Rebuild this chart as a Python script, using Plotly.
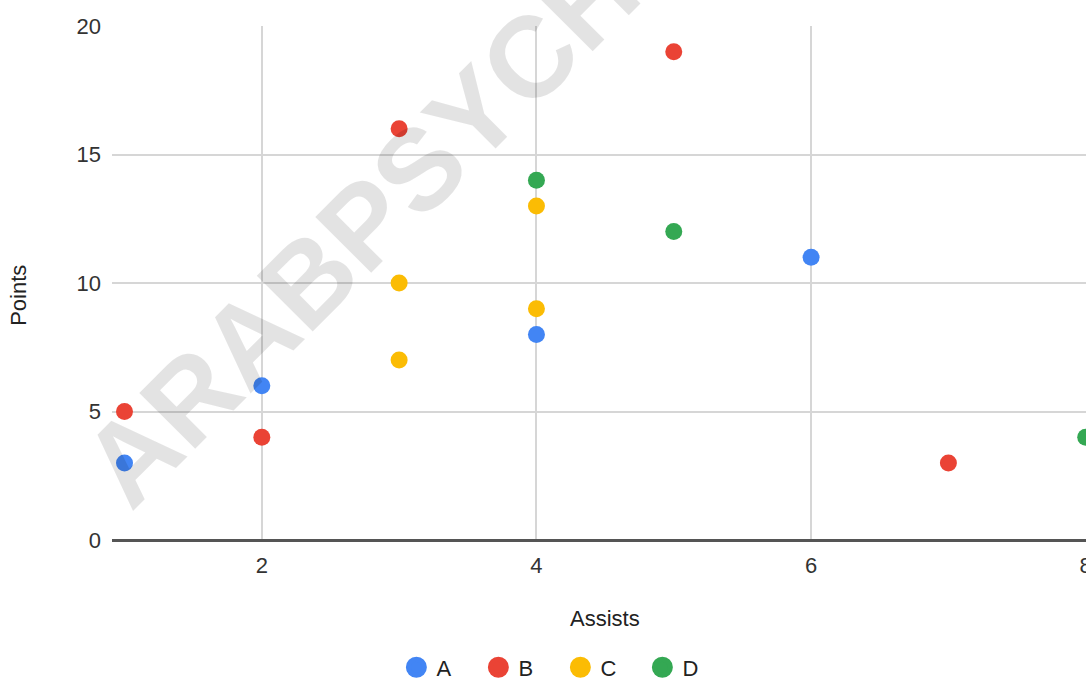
import plotly.graph_objects as go

series_names = ["A", "B", "C", "D"]
series_colors = ["#4285F4", "#EA4335", "#FBBC04", "#34A853"]
a_x = [1, 2, 4, 6]
a_y = [3, 6, 8, 11]
b_x = [1, 2, 3, 5, 7]
b_y = [5, 4, 16, 19, 3]
c_x = [3, 3, 4, 4]
c_y = [10, 7, 13, 9]
d_x = [4, 5, 8]
d_y = [14, 12, 4]
x_ticks = [2, 4, 6, 8]
y_ticks = [0, 5, 10, 15, 20]

xs = [a_x, b_x, c_x, d_x]
ys = [a_y, b_y, c_y, d_y]

FONT = "Liberation Sans, Arial, sans-serif"

fig = go.Figure()
for name, color, x, y in zip(series_names, series_colors, xs, ys):
    fig.add_trace(go.Scatter(
        x=x, y=y, name=name, mode="markers", legendgroup=name,
        showlegend=False,
        marker=dict(color=color, size=17, line=dict(width=0)),
    ))
# legend-only entries (larger legend symbols)
for name, color in zip(series_names, series_colors):
    fig.add_trace(go.Scatter(
        x=[None], y=[None], name=name, mode="markers", legendgroup=name,
        showlegend=True, hoverinfo="skip",
        marker=dict(color=color, size=16, line=dict(width=5, color=color)),
    ))

fig.add_annotation(
    text="<b>ARABPSYCHOLOGY</b>", xref="paper", yref="paper",
    x=0.406, y=0.895, xanchor="center", yanchor="middle",
    textangle=-45, showarrow=False,
    font=dict(family=FONT, size=115, color="rgba(0,0,0,0.11)"),
)
fig.add_annotation(
    text="Assists", xref="paper", yref="paper",
    x=0.506, y=-0.152, xanchor="center", yanchor="middle",
    showarrow=False, font=dict(family=FONT, size=22, color="#222222"),
)
fig.add_annotation(
    text="Points", xref="paper", yref="paper",
    x=-0.0955, y=0.477, xanchor="center", yanchor="middle",
    textangle=-90, showarrow=False,
    font=dict(family=FONT, size=22, color="#222222"),
)

fig.update_layout(
    width=1086, height=679,
    margin=dict(l=112, r=0, t=26, b=139),
    paper_bgcolor="white", plot_bgcolor="white",
    font=dict(family=FONT, size=22, color="#222222"),
    showlegend=True,
    legend=dict(
        orientation="h", xref="container", yref="container",
        x=0.516, xanchor="center", y=0.017, yanchor="middle",
        font=dict(size=22, color="#222222"),
        entrywidth=37, entrywidthmode="pixels",
        itemsizing="trace", itemclick=False, itemdoubleclick=False,
    ),
    xaxis=dict(
        range=[0.909, 8.002], tickvals=x_ticks, showgrid=True,
        gridcolor="#d6d6d6", gridwidth=1.5, zeroline=False,
        showline=False, ticks="", automargin=False,
        ticklabelstandoff=10, ticklabeloverflow="allow",
        tickfont=dict(size=22, color="#333333"),
    ),
    yaxis=dict(
        range=[0, 20], tickvals=y_ticks, showgrid=True,
        gridcolor="#d6d6d6", gridwidth=1.5, zeroline=True,
        zerolinecolor="#555555", zerolinewidth=2.5,
        showline=False, ticks="", automargin=False,
        ticklabelstandoff=10,
        tickfont=dict(size=22, color="#333333"),
    ),
)

fig.write_html("out.html")
